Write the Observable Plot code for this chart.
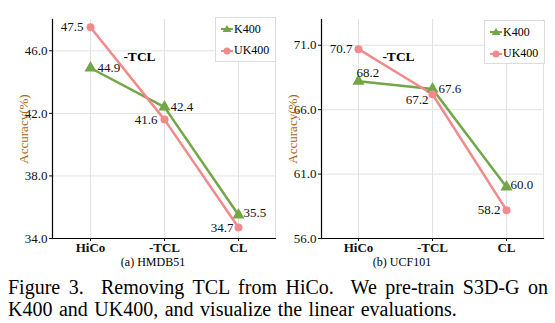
<!DOCTYPE html>
<html>
<head>
<meta charset="utf-8">
<script src="https://cdn.jsdelivr.net/npm/d3@7"></script>
<script src="https://cdn.jsdelivr.net/npm/@observablehq/plot@0.6"></script>
<style>
  body { margin: 0; background: #fff; }
  #wrap { position: relative; width: 555px; height: 323px; overflow: hidden; font-family: "Liberation Serif", "Times New Roman", serif; color: #000; }
  #wrap svg, #wrap svg text { font-family: "Liberation Serif", "Times New Roman", serif !important; }
  .panel { position: absolute; top: 0; }
  .legend { position: absolute; border: 1px solid #dcdcdc; background: #fff; font-size: 12px; }
  .legend .row { position: absolute; left: 4px; height: 14px; display: flex; align-items: center; }
  .legend svg { display: block; }
  .sub { position: absolute; font-size: 12px; line-height: 13px; transform: translateX(-50%); white-space: nowrap; }
  .cap { position: absolute; left: 8px; width: 540px; font-size: 20px; line-height: 22px; white-space: nowrap; }
  .cap.j { text-align: justify; text-align-last: justify; }
</style>
</head>
<body>
<div id="wrap"></div>
<script>
// ---- data ----
const categories = ["HiCo", "-TCL", "CL"];
const seriesNames = ["K400", "UK400"];
const hmdbK400 = [44.9, 42.4, 35.5];
const hmdbUK400 = [47.5, 41.6, 34.7];
const ucfK400 = [68.2, 67.6, 60.0];
const ucfUK400 = [70.7, 67.2, 58.2];
const hmdbTicks = [34, 38, 42, 46];
const ucfTicks = [56, 61, 66, 71];
const hmdbDomain = [34, 48];
const ucfDomain = [56, 73];
const panelTitles = ["(a) HMDB51", "(b) UCF101"];
const annotationText = "-TCL";
const hmdbAnnotation = {cat: "HiCo", y: 45.6};
const ucfAnnotation = {cat: "HiCo", y: 70.1};

// ---- styles / placement ----
const colors = {K400: "#72a646", UK400: "#f28a8c"};
// label offsets per series per category: [dx, dy, anchor]
const hmdbLabelPos = {
  K400: [[7, 0, "start"], [6, 0, "start"], [5, -2, "start"]],
  UK400: [[-7, 0, "end"], [-7, 0, "end"], [-5, 0, "end"]]
};
const ucfLabelPos = {
  K400: [[-2, -9, "start"], [6, 0, "start"], [4, -2, "start"]],
  UK400: [[-6, 0, "end"], [-4, 6, "end"], [-6, 0, "end"]]
};

function rowsFor(k, uk) {
  const rows = [];
  categories.forEach((c, i) => rows.push({cat: c, value: k[i], series: "K400", i}));
  categories.forEach((c, i) => rows.push({cat: c, value: uk[i], series: "UK400", i}));
  return rows;
}

function panel({k, uk, ticks, domain, width, marginLeft, marginRight, labelPos, annotation, annDx}) {
  const rows = rowsFor(k, uk);
  const labelMarks = rows.map(r => {
    const [dx, dy, anchor] = labelPos[r.series][r.i];
    return Plot.text([r], {x: "cat", y: "value", text: d => d.value.toFixed(1), dx, dy, textAnchor: anchor, fontSize: 13, fill: "#111"});
  });
  return Plot.plot({
    width, height: 268,
    marginLeft, marginRight, marginTop: 19, marginBottom: 30,
    style: {fontFamily: "'Liberation Serif', 'Times New Roman', serif", fontSize: "13px", color: "#111", background: "transparent"},
    x: {type: "point", domain: categories, padding: 0.5, label: null},
    y: {domain, label: null},
    marks: [
      Plot.gridY(ticks, {stroke: "#e2e2e2", strokeOpacity: 1}),
      Plot.gridX(categories, {stroke: "#e2e2e2", strokeOpacity: 1}),
      Plot.frame({anchor: "right", stroke: "#e2e2e2"}),
      Plot.frame({anchor: "left", stroke: "#000", strokeWidth: 1.2}),
      Plot.frame({anchor: "bottom", stroke: "#000", strokeWidth: 1.2}),
      Plot.axisY({ticks, tickFormat: d => d.toFixed(1), tickSize: 3, tickPadding: 2, fontSize: 13,
        label: "Accuracy(%)", labelAnchor: "center", labelOffset: 34, labelArrow: "none"}),
      Plot.axisX({tickSize: 3, tickPadding: 1, fontWeight: "bold", fontSize: 13, label: null}),
      Plot.line(rows, {x: "cat", y: "value", z: "series", stroke: d => colors[d.series], strokeWidth: 2.5}),
      Plot.dot(rows.filter(d => d.series === "K400"), {x: "cat", y: "value", symbol: "triangle", r: 4.5, fill: colors.K400}),
      Plot.dot(rows.filter(d => d.series === "UK400"), {x: "cat", y: "value", symbol: "circle", r: 4, fill: colors.UK400}),
      ...labelMarks,
      Plot.text([annotation], {x: "cat", y: "y", text: () => annotationText, dx: annDx, fontWeight: "bold", fontSize: 13.5, fill: "#000"})
    ]
  });
}

const wrap = document.getElementById("wrap");

const left = panel({k: hmdbK400, uk: hmdbUK400, ticks: hmdbTicks, domain: hmdbDomain, width: 278, marginLeft: 52, marginRight: 3, labelPos: hmdbLabelPos, annotation: hmdbAnnotation, annDx: 49});
left.classList.add("panel"); left.style.left = "0px";
wrap.appendChild(left);

const right = panel({k: ucfK400, uk: ucfUK400, ticks: ucfTicks, domain: ucfDomain, width: 277, marginLeft: 43, marginRight: 12, labelPos: ucfLabelPos, annotation: ucfAnnotation, annDx: 40});
right.classList.add("panel"); right.style.left = "278px";
wrap.appendChild(right);

// style y-axis labels
wrap.querySelectorAll("g[aria-label='y-axis label']").forEach(el => {
  el.setAttribute("fill", "#a8640e");
  el.style.fontSize = "13px";
  el.querySelectorAll("text").forEach(t => { t.setAttribute("fill", "#a8640e"); t.style.fontSize = "13px"; });
});

// legends
function legend(x, y, w, h) {
  const lg = document.createElement("div");
  lg.className = "legend";
  Object.assign(lg.style, {left: x + "px", top: y + "px", width: w + "px", height: h + "px"});
  seriesNames.forEach((s, i) => {
    const row = document.createElement("div");
    row.className = "row";
    row.style.top = (4 + i * 21.5) + "px";
    const sym = s === "K400"
      ? `<polygon points="7,3 11.5,10 2.5,10" fill="${colors[s]}"/>`
      : `<circle cx="7" cy="7" r="3.5" fill="${colors[s]}"/>`;
    row.innerHTML = `<svg width="14" height="14"><line x1="1" x2="13" y1="7" y2="7" stroke="${colors[s]}" stroke-width="2"/>${sym}</svg><span>${s}</span>`;
    lg.appendChild(row);
  });
  wrap.appendChild(lg);
}
legend(215, 17, 59, 43);
legend(484, 20, 59, 42);

// sub-captions
[[153, panelTitles[0]], [402, panelTitles[1]]].forEach(([x, t]) => {
  const d = document.createElement("div");
  d.className = "sub"; d.style.left = x + "px"; d.style.top = "256px"; d.textContent = t;
  wrap.appendChild(d);
});

// caption
const c1 = document.createElement("div");
c1.className = "cap j"; c1.style.top = "276px";
c1.textContent = "Figure 3.\u00a0 Removing TCL from HiCo.\u00a0 We pre-train S3D-G on";
wrap.appendChild(c1);
const c2 = document.createElement("div");
c2.className = "cap"; c2.style.top = "298px"; c2.style.wordSpacing = "1.5px";
c2.textContent = "K400 and UK400, and visualize the linear evaluations.";
wrap.appendChild(c2);
</script>
</body>
</html>
